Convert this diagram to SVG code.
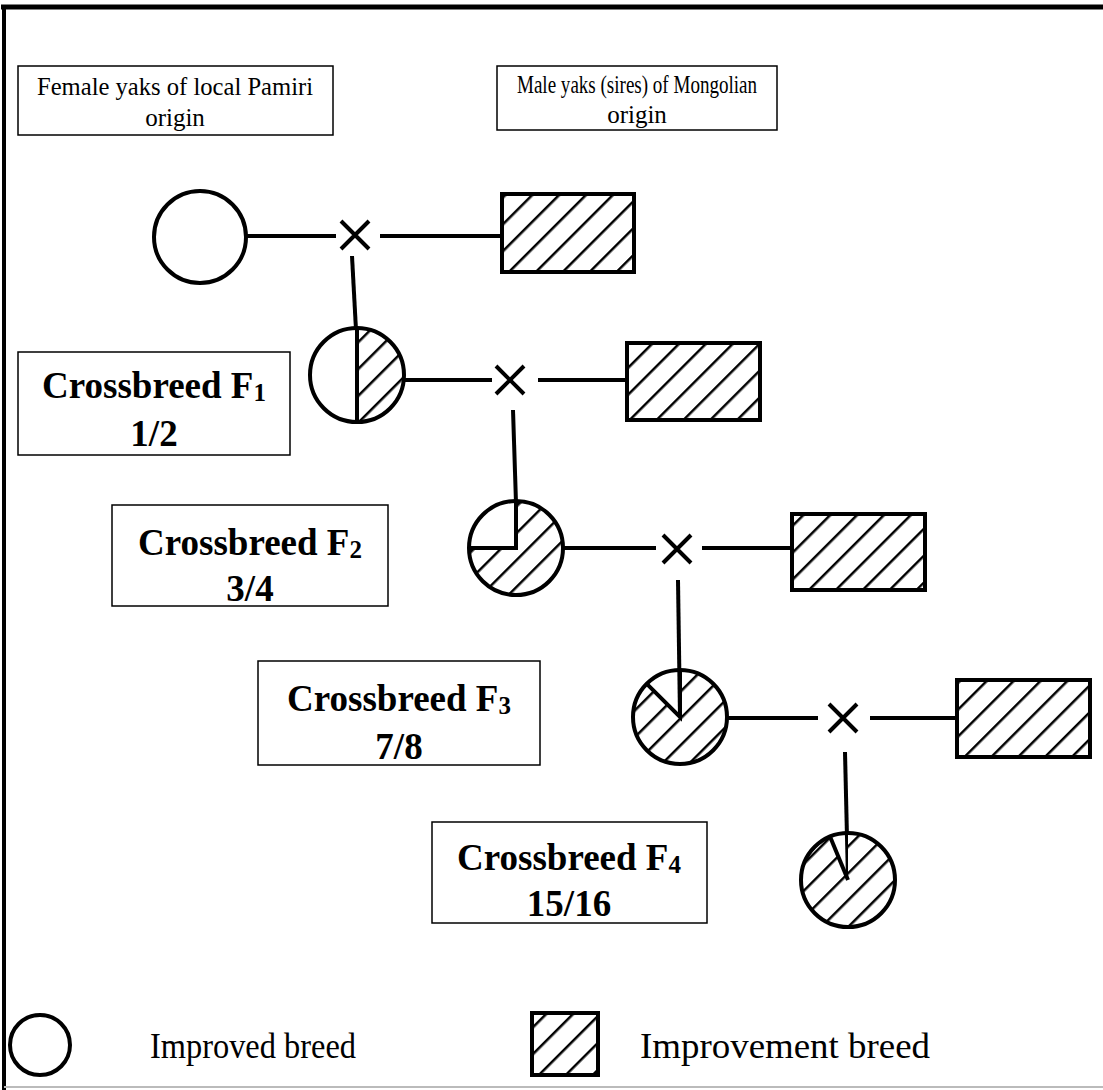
<svg xmlns="http://www.w3.org/2000/svg" width="1103" height="1090" viewBox="0 0 1103 1090">
<defs>
<pattern id="hatch" patternUnits="userSpaceOnUse" width="19" height="19" patternTransform="rotate(45)">
<rect width="19" height="19" fill="#fff"/>
<line x1="0" y1="0" x2="0" y2="19" stroke="#000" stroke-width="5"/>
</pattern>
</defs>
<style>
.lbl{fill:#fff;stroke:#000;stroke-width:1.5}
.t{font-family:"Liberation Serif","Times New Roman",serif;fill:#000;text-anchor:middle}
.top{font-size:25px}
.cb{font-size:37px;font-weight:bold}
.sub{font-size:25px}
.leg{font-size:35px;text-anchor:start}
.ln{stroke:#000;stroke-width:4;fill:none;stroke-linecap:butt}
.ol{stroke:#000;stroke-width:4;fill:none}
.hf{fill:url(#hatch);stroke:none}
.hr{fill:url(#hatch);stroke:#000;stroke-width:4}
.wc{fill:#fff;stroke:#000;stroke-width:4}
</style>
<rect width="1103" height="1090" fill="#fff"/>
<g id="frame">
<line x1="1" y1="7" x2="1103" y2="7" stroke="#000" stroke-width="5"/>
<line x1="4" y1="5" x2="4" y2="1090" stroke="#000" stroke-width="4"/>
<line x1="4" y1="1087" x2="1103" y2="1087" stroke="#bbb" stroke-width="2"/>
</g>
<g id="label-female">
<rect class="lbl" x="18" y="66" width="315" height="69"/>
<text class="t top" x="175" y="95" textLength="276" lengthAdjust="spacingAndGlyphs">Female yaks of local Pamiri</text>
<text class="t top" x="175" y="126">origin</text>
</g>
<g id="label-male">
<rect class="lbl" x="497" y="66" width="280" height="64"/>
<text class="t top" x="637" y="93" textLength="240" lengthAdjust="spacingAndGlyphs">Male yaks (sires) of Mongolian</text>
<text class="t top" x="637" y="123">origin</text>
</g>
<g id="label-f1">
<rect class="lbl" x="18" y="352" width="272" height="103"/>
<text class="t cb" x="154" y="398">Crossbreed F<tspan class="sub" dy="3">1</tspan></text>
<text class="t cb" x="154" y="446">1/2</text>
</g>
<g id="label-f2">
<rect class="lbl" x="112" y="505" width="276" height="101"/>
<text class="t cb" x="250" y="555">Crossbreed F<tspan class="sub" dy="3">2</tspan></text>
<text class="t cb" x="250" y="601">3/4</text>
</g>
<g id="label-f3">
<rect class="lbl" x="258" y="661" width="282" height="104"/>
<text class="t cb" x="399" y="711">Crossbreed F<tspan class="sub" dy="3">3</tspan></text>
<text class="t cb" x="399" y="759">7/8</text>
</g>
<g id="label-f4">
<rect class="lbl" x="432" y="822" width="275" height="101"/>
<text class="t cb" x="569" y="870">Crossbreed F<tspan class="sub" dy="3">4</tspan></text>
<text class="t cb" x="569" y="916">15/16</text>
</g>
<g id="connectors">
<line class="ln" x1="246" y1="236" x2="336" y2="236"/>
<line class="ln" x1="380" y1="236" x2="502" y2="236"/>
<line class="ln" x1="352" y1="256" x2="356" y2="330"/>
<line class="ln" x1="404" y1="380" x2="492" y2="380"/>
<line class="ln" x1="538" y1="380" x2="627" y2="380"/>
<line class="ln" x1="513" y1="410" x2="516" y2="503"/>
<line class="ln" x1="563" y1="548" x2="656" y2="548"/>
<line class="ln" x1="702" y1="548" x2="792" y2="548"/>
<line class="ln" x1="678" y1="580" x2="680" y2="717"/>
<line class="ln" x1="727" y1="718" x2="818" y2="718"/>
<line class="ln" x1="870" y1="718" x2="957" y2="718"/>
<line class="ln" x1="845" y1="752" x2="848" y2="880"/>
</g>
<g id="cross1"><path class="ln" d="M341,221 L369,249 M369,221 L341,249"/></g>
<g id="cross2"><path class="ln" d="M496,366 L524,394 M524,366 L496,394"/></g>
<g id="cross3"><path class="ln" d="M663,535 L691,563 M691,535 L663,563"/></g>
<g id="cross4"><path class="ln" d="M829,704 L857,732 M857,704 L829,732"/></g>
<g id="female-p"><circle class="wc" cx="200" cy="237" r="46"/></g>
<g id="male-1"><rect class="hr" x="502" y="194" width="132" height="78"/></g>
<g id="male-2"><rect class="hr" x="627" y="343" width="133" height="77"/></g>
<g id="male-3"><rect class="hr" x="792" y="514" width="133" height="76"/></g>
<g id="male-4"><rect class="hr" x="957" y="680" width="133" height="77"/></g>
<g id="f1">
<path class="hf" d="M357,328 A47,47 0 0 1 357,422 Z"/>
<circle class="ol" cx="357" cy="375" r="47"/>
<line class="ln" x1="357" y1="328" x2="357" y2="422"/>
</g>
<g id="f2">
<path class="hf" d="M516,548 L516,501 A47,47 0 1 1 469,548 Z"/>
<circle class="ol" cx="516" cy="548" r="47"/>
<path class="ln" d="M516,501 L516,548 L469,548"/>
</g>
<g id="f3">
<path class="hf" d="M680,717 L680,670 A47,47 0 1 1 646.8,683.8 Z"/>
<circle class="ol" cx="680" cy="717" r="47"/>
<path class="ln" d="M680,670 L680,717 L646.8,683.8"/>
</g>
<g id="f4">
<path class="hf" d="M848,880 L848,833 A47,47 0 1 1 830,836.6 Z"/>
<circle class="ol" cx="848" cy="880" r="47"/>
<path class="ln" d="M848,880 L830,836.6"/>
</g>
<g id="legend">
<circle class="wc" cx="40" cy="1045" r="30"/>
<text class="t leg" x="150" y="1058" textLength="206" lengthAdjust="spacingAndGlyphs">Improved breed</text>
<rect class="hr" x="532" y="1013" width="66" height="62"/>
<text class="t leg" x="640" y="1058" textLength="290" lengthAdjust="spacingAndGlyphs">Improvement breed</text>
</g>
</svg>
